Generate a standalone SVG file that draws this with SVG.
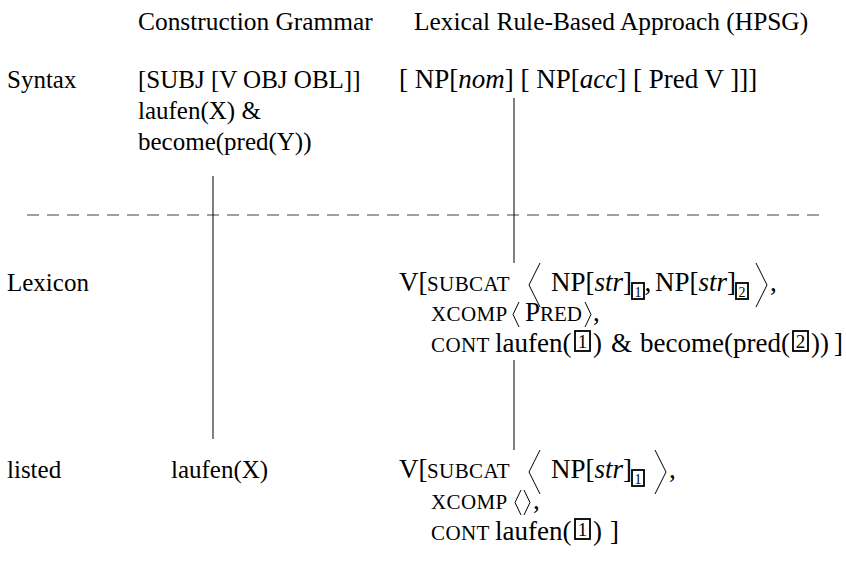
<svg xmlns="http://www.w3.org/2000/svg" width="846" height="561" viewBox="0 0 846 561">
<style>
text{font-family:"Liberation Serif","Times New Roman",serif;font-size:25px;fill:#000}
.hd{font-size:25.4px}
.h{font-size:27px}
.sc{font-size:21px;letter-spacing:0.4px}
.sc2{font-size:21px}
.it{font-style:italic}
.num{font-size:14px;text-anchor:middle}
.numb{font-size:19px;text-anchor:middle}
.box{fill:none;stroke:#000;stroke-width:1.8}
.br{fill:none;stroke:#000;stroke-width:1}
.conn{stroke:#000;stroke-width:1;fill:none}
.dash{stroke:#808080;stroke-width:1.5;stroke-dasharray:12 8;fill:none}
</style>
<rect width="846" height="561" fill="#fff"/>
<g id="headers">
<text class="hd" x="138" y="30">Construction Grammar</text>
<text class="hd" x="414" y="30">Lexical Rule-Based Approach (HPSG)</text>
</g>
<g id="row-labels">
<text x="7" y="88">Syntax</text>
<text x="7" y="291">Lexicon</text>
<text x="7" y="478">listed</text>
</g>
<g id="cxg-syntax">
<text x="138" y="88">[SUBJ [V OBJ OBL]]</text>
<text x="138" y="119">laufen(X) &amp;</text>
<text x="138" y="150">become(pred(Y))</text>
</g>
<g id="cxg-listed">
<text x="171" y="478">laufen(X)</text>
</g>
<g id="hpsg-syntax">
<text class="h" x="399" y="88">[ NP[<tspan class="it">nom</tspan>] [ NP[<tspan class="it">acc</tspan>] [ Pred V ]]]</text>
</g>
<g id="hpsg-lexicon">
<text class="h" x="399" y="291">V[</text>
<text class="sc" x="427" y="291">SUBCAT</text>
<polyline class="br" points="540,263 529,285 540,307"/>
<text class="h" x="551" y="291">NP[<tspan class="it">str</tspan>]</text>
<rect class="box" x="632" y="283" width="12" height="16"/>
<text class="num" x="638" y="297">1</text>
<text class="h" x="644.5" y="291">,</text>
<text class="h" x="655" y="291">NP[<tspan class="it">str</tspan>]</text>
<rect class="box" x="736" y="283" width="12" height="16"/>
<text class="num" x="742" y="297">2</text>
<polyline class="br" points="756,263 767,285 756,307"/>
<text class="h" x="770" y="291">,</text>
<text class="sc" x="431" y="321">XCOMP</text>
<polyline class="br" points="519,302 513,314.5 519,327"/>
<text class="h" x="525" y="321">P<tspan class="sc2">RED</tspan></text>
<polyline class="br" points="585,302 591,314.5 585,327"/>
<text class="h" x="593" y="321">,</text>
<text class="sc" x="431" y="352">CONT</text>
<text class="h" x="495" y="352">laufen(</text>
<rect class="box" x="575" y="331" width="15" height="20"/>
<text class="numb" x="582.5" y="348">1</text>
<text class="h" x="593" y="352">)</text>
<text class="h" x="611" y="352">&amp;</text>
<text class="h" x="640" y="352">become(pred(</text>
<rect class="box" x="793" y="331" width="15" height="20"/>
<text class="numb" x="800.5" y="348">2</text>
<text class="h" x="811" y="352">))</text>
<text class="h" x="834" y="352">]</text>
</g>
<g id="hpsg-listed">
<text class="h" x="399" y="478">V[</text>
<text class="sc" x="427" y="478">SUBCAT</text>
<polyline class="br" points="540,450 529,472 540,494"/>
<text class="h" x="551" y="478">NP[<tspan class="it">str</tspan>]</text>
<rect class="box" x="632" y="470" width="12" height="16"/>
<text class="num" x="638" y="484">1</text>
<polyline class="br" points="655,450 666,472 655,494"/>
<text class="h" x="669" y="478">,</text>
<text class="sc" x="431" y="509">XCOMP</text>
<polyline class="br" points="521,490 515,502.5 521,515"/>
<polyline class="br" points="524,490 530,502.5 524,515"/>
<text class="h" x="533" y="509">,</text>
<text class="sc" x="431" y="540">CONT</text>
<text class="h" x="495" y="540">laufen(</text>
<rect class="box" x="575" y="519" width="15" height="20"/>
<text class="numb" x="582.5" y="536">1</text>
<text class="h" x="593" y="540">)</text>
<text class="h" x="610" y="540">]</text>
</g>
<g id="connectors">
<line class="dash" x1="27" y1="215" x2="826" y2="215"/>
<line class="conn" x1="213" y1="176" x2="213" y2="439"/>
<line class="conn" x1="514" y1="98" x2="514" y2="263"/>
<line class="conn" x1="514" y1="360" x2="514" y2="450"/>
</g>
</svg>
